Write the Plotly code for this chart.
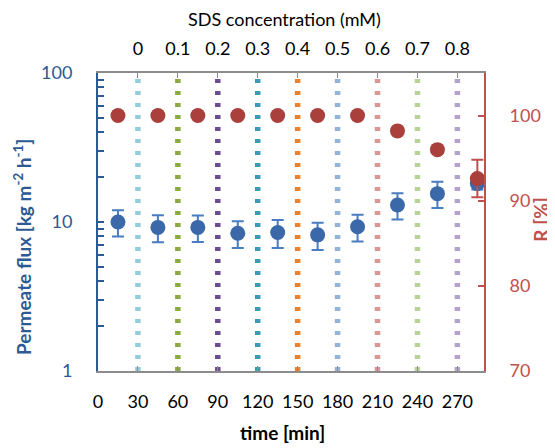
import plotly.graph_objects as go

# ---- data ----
time_min = [15, 45, 75, 105, 135, 165, 195, 225, 255, 285]
flux = [10.0, 9.2, 9.2, 8.4, 8.5, 8.2, 9.3, 13.0, 15.5, 18.1]
flux_err = [2.0, 1.9, 1.85, 1.7, 1.8, 1.7, 1.9, 2.6, 3.1, 1.6]
rejection = [100.0, 100.0, 100.0, 100.0, 100.0, 100.0, 100.0, 98.2, 96.0, 92.6]
rejection_err = [0.0, 0.0, 0.0, 0.0, 0.0, 0.0, 0.0, 0.3, 0.3, 2.2]

change_times = [30, 60, 90, 120, 150, 180, 210, 240, 270]
sds_labels = ["0", "0.1", "0.2", "0.3", "0.4", "0.5", "0.6", "0.7", "0.8"]
line_colors = ["#92CDDC", "#8AAA3F", "#6B4C8E", "#3A9BB5", "#E8822E",
               "#95B3D7", "#D99694", "#B8D395", "#B3A2C7"]

time_ticks = [0, 30, 60, 90, 120, 150, 180, 210, 240, 270]
flux_ticks = [1, 10, 100]
flux_minor = [2, 3, 4, 5, 6, 7, 8, 9, 20, 30, 40, 50, 60, 70, 80, 90]
r_ticks = [70, 80, 90, 100]

FONT = "Lato"
BLUE = "#3A68A8"
BLUE_AX = "#2B5A94"
RED = "#A9403C"
RED_AX = "#C0504D"
GRAY = "#8C8C8C"

fig = go.Figure()

for t, c in zip(change_times, line_colors):
    fig.add_trace(go.Scatter(
        x=[t, t], y=[flux_ticks[0], flux_ticks[-1]], mode="lines",
        line=dict(color=c, width=5.5, dash="4px,8px"),
        hoverinfo="skip", showlegend=False, xaxis="x", yaxis="y"))

fig.add_trace(go.Scatter(
    x=time_min, y=flux, mode="markers",
    marker=dict(color=BLUE, size=15),
    error_y=dict(type="data", array=flux_err, color="#4A7CC0", thickness=2, width=6),
    showlegend=False, xaxis="x", yaxis="y"))

fig.add_trace(go.Scatter(
    x=time_min, y=rejection, mode="markers",
    marker=dict(color=RED, size=15),
    error_y=dict(type="data", array=rejection_err, color="#C0504D", thickness=2, width=6),
    showlegend=False, xaxis="x", yaxis="y2"))

# invisible trace to activate top axis
fig.add_trace(go.Scatter(x=[change_times[0]], y=[flux_ticks[0]], mode="markers",
                         marker=dict(opacity=0), showlegend=False, hoverinfo="skip",
                         xaxis="x2", yaxis="y"))

ann = [
    dict(text="<b>time [min]</b>", x=0.479, y=-0.205, font=dict(size=19, color="black")),
    dict(text="SDS concentration (mM)", x=0.483, y=1.182, font=dict(size=18, color="black")),
    dict(text="<b>Permeate flux [kg m<sup>-2</sup> h<sup>-1</sup>]</b>", x=-0.197, y=0.416,
         textangle=-90, font=dict(size=19, color=BLUE_AX)),
    dict(text="<b>R [%]</b>", x=1.147, y=0.507, textangle=-90,
         font=dict(size=19, color=RED_AX)),
]
for a in ann:
    a.update(xref="paper", yref="paper", showarrow=False, xanchor="center", yanchor="middle")

fig.update_layout(
    width=547, height=440,
    margin=dict(l=90, r=71, t=65, b=77),
    plot_bgcolor="white", paper_bgcolor="white",
    font=dict(family=FONT, size=18, color="black"),
    annotations=ann,
    xaxis=dict(
        range=[0, 290], tickvals=time_ticks, ticks="inside", ticklen=5,
        tickcolor=GRAY, showline=True, linecolor=GRAY, linewidth=2,
        showgrid=False, zeroline=False, automargin=False,
        ticklabelstandoff=13,
    ),
    xaxis2=dict(
        range=[0, 290], overlaying="x", side="top", anchor="y",
        tickvals=change_times, ticktext=sds_labels, ticks="inside", ticklen=5,
        tickcolor=GRAY, showline=True, linecolor=GRAY, linewidth=2,
        showgrid=False, zeroline=False, automargin=False,
        ticklabelstandoff=9,
    ),
    yaxis=dict(
        type="log", range=[0, 2], tickvals=flux_ticks, ticks="inside", ticklen=6,
        tickcolor=BLUE_AX, tickwidth=2, showline=True, linecolor=BLUE_AX, linewidth=2,
        showgrid=False, zeroline=False, automargin=False,
        tickfont=dict(color=BLUE_AX, size=18),
        minor=dict(ticks="inside", ticklen=6, tickcolor=BLUE_AX, tickwidth=2,
                   showgrid=False, tickvals=flux_minor),
        ticklabelstandoff=20,
    ),
    yaxis2=dict(
        range=[70, 105], overlaying="y", side="right", anchor="x",
        tickvals=r_ticks, ticks="inside", ticklen=6, tickcolor=RED_AX, tickwidth=2,
        showline=True, linecolor=RED_AX, linewidth=2, showgrid=False, zeroline=False,
        automargin=False, tickfont=dict(color=RED_AX, size=18),
        ticklabelstandoff=20,
    ),
)

fig.write_html("out.html")
